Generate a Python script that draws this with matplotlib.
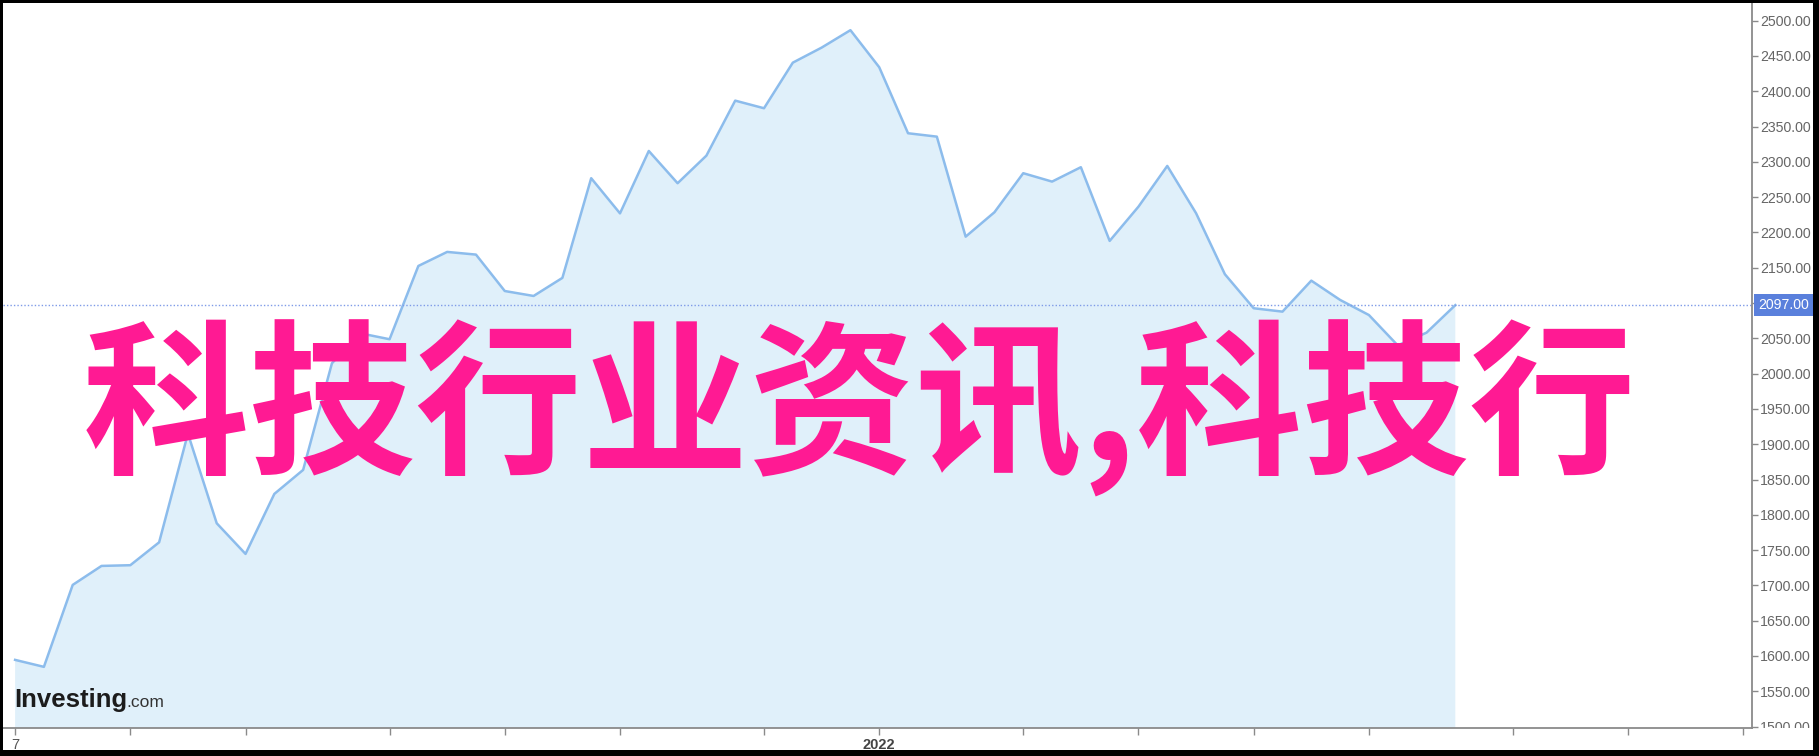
import matplotlib
matplotlib.use("Agg")
import matplotlib.pyplot as plt
from matplotlib.patches import Rectangle
from matplotlib.transforms import Bbox, blended_transform_factory
import numpy as np

plt.rcParams['font.family'] = ['Liberation Sans', 'DejaVu Sans']

# weekly closes
weeks = np.arange(51)
close = [1594.5, 1584.6, 1700.7, 1727.6, 1728.6, 1761.0, 1915.0, 1788.0, 1744.6, 1829.6,
         1863.6, 2014.7, 2057.0, 2048.7, 2152.5, 2172.4, 2168.6, 2117.0, 2110.0, 2135.6,
         2276.8, 2227.0, 2315.4, 2269.7, 2308.8, 2386.7, 2375.9, 2440.5, 2461.8, 2486.5,
         2434.0, 2340.5, 2335.7, 2194.0, 2228.6, 2283.9, 2272.0, 2292.4, 2188.0, 2236.5,
         2294.2, 2227.2, 2140.8, 2092.6, 2087.8, 2131.7, 2104.4, 2083.0, 2040.0, 2058.0,
         2097.0]
last_price = 2097.0

month_ticks = [0, 4, 8, 13, 17, 21, 26, 30, 35, 39, 43, 47, 52, 56, 60]
month_labels = ['7', '', '', '', '', '', '', '2022', '', '', '', '', '', '', '']
y_ticks = np.arange(1500, 2501, 50)

overlay = '科技行业资讯,科技行'

W, H = 1819, 756
fig = plt.figure(figsize=(W / 100, H / 100), dpi=100)
fig.patch.set_facecolor('white')
ax = fig.add_axes([3 / W, 1 - 728 / H, (1752 - 3) / W, (728 - 3) / H])

ax.fill_between(weeks, close, 1400, color='#e0f0fa', linewidth=0)
ax.plot(weeks, close, color='#8cbcec', linewidth=1.8)
ax.axhline(last_price, color='#7f9be8', linewidth=1.0, linestyle=(0, (1, 1.5)))

ax.set_xlim(-0.42, 60.3)
ax.set_ylim(1498, 2525)

for s in ['top', 'left']:
    ax.spines[s].set_visible(False)
ax.spines['right'].set_color('#8a8a8a')
ax.spines['bottom'].set_color('#8a8a8a')
ax.spines['right'].set_linewidth(1.3)
ax.spines['bottom'].set_linewidth(1.3)

ax.yaxis.tick_right()
ax.set_yticks(y_ticks)
ax.set_yticklabels(['%.2f' % v for v in y_ticks])
ax.tick_params(axis='y', direction='out', length=4, width=1, color='#8a8a8a',
               labelcolor='#666666', labelsize=10.2, pad=2)
ax.set_xticks(month_ticks)
ax.set_xticklabels(month_labels)
ax.tick_params(axis='x', direction='out', length=5, width=1, color='#8a8a8a',
               labelcolor='#555555', labelsize=10.5, pad=2)
for lbl in ax.get_xticklabels():
    if lbl.get_text() == '2022':
        lbl.set_fontweight('bold')
        lbl.set_color('#444444')

# bottom label is cut at the x axis
clip = Bbox([[0, H - 728], [W, H]])
for lbl in ax.get_yticklabels():
    lbl.set_clip_on(True)
    lbl.set_clip_box(clip)

# last price tag
tr = blended_transform_factory(ax.transAxes, ax.transData)
ax.text(1.0035, last_price, '%.2f' % last_price, transform=tr, ha='left', va='center',
        fontsize=10.2, color='white', clip_on=False,
        bbox=dict(boxstyle='square,pad=0.3', facecolor='#5a80dc', edgecolor='none'))

# logo
fig.text(14 / W, 1 - 707 / H, 'Investing', fontsize=18.5, fontweight='bold',
         color='#1c1c1c', ha='left', va='baseline')
fig.text(126 / W, 1 - 707 / H, '.com', fontsize=12.5, color='#333333',
         ha='left', va='baseline')

# big pink overlay text
fig.text(83 / W, 1 - 462 / H, overlay, fontsize=120, fontweight='bold', color='#ff1a93',
         family=['Noto Sans CJK SC', 'DejaVu Sans'], ha='left', va='baseline')

# black screenshot frame
for (x0, y0, w, h) in [(0, 0, W, 6), (0, H - 3, W, 3), (0, 0, 3, H), (W - 6, 0, 6, H)]:
    fig.add_artist(Rectangle((x0 / W, y0 / H), w / W, h / H, transform=fig.transFigure,
                             facecolor='black', edgecolor='none', zorder=10))

fig.savefig('out.png', dpi=100)
